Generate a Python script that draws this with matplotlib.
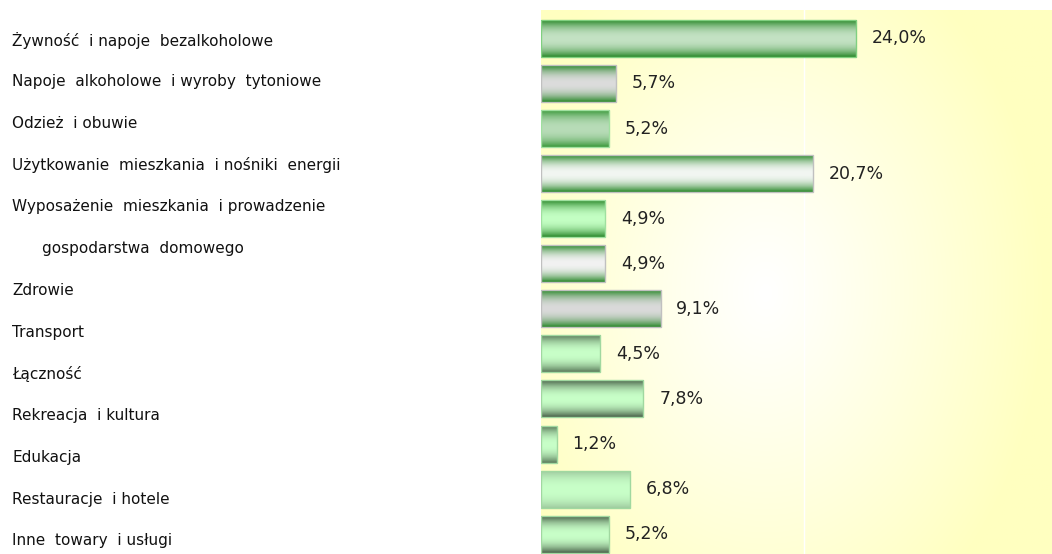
import numpy as np
import matplotlib
matplotlib.use("Agg")
import matplotlib.pyplot as plt
from matplotlib.colors import to_rgb

# dane: struktura wydatkow (%)
wartosci = [24.0, 5.7, 5.2, 20.7, 4.9, 4.9, 9.1, 4.5, 7.8, 1.2, 6.8, 5.2]

# etykiety z lewej strony (tak jak na oryginale - osobna kolumna tekstu)
etykiety = ["Żywność  i napoje  bezalkoholowe", "Napoje  alkoholowe  i wyroby  tytoniowe",
            "Odzież  i obuwie", "Użytkowanie  mieszkania  i nośniki  energii",
            "Wyposażenie  mieszkania  i prowadzenie", "gospodarstwa  domowego",
            "Zdrowie", "Transport", "Łączność", "Rekreacja  i kultura",
            "Edukacja", "Restauracje  i hotele", "Inne  towary  i usługi"]
wciecia = [0, 0, 0, 0, 0, 1, 0, 0, 0, 0, 0, 0, 0]

# kolory gradientu: (brzeg, srodek)
kolory = [("#2a882a", "#c4e2c4"), ("#2a882a", "#dcdcdc"), ("#3a983a", "#b8dcb8"),
          ("#2a882a", "#f2f6f2"), ("#2a882a", "#c4ffc4"), ("#2a882a", "#f2f2f2"),
          ("#2a882a", "#dadada"), ("#5a7a5a", "#c8ffc8"), ("#4a624a", "#c8ffc8"),
          ("#5a7a5a", "#c8ffc8"), ("#a0cca0", "#c8ffc8"), ("#4a624a", "#c8ffc8")]
obwodki = ["#80d080", "#c0c0c0", "#a0e0a0", "#c0c0c0", "#a0e0a0", "#c0c0c0",
           "#c0c0c0", "#a0d8a0", "#a0d8a0", "#a0d8a0", "#a0d8a0", "#a0d8a0"]

W, H = 1052, 554
fig = plt.figure(figsize=(W / 100, H / 100), dpi=100)
fig.patch.set_facecolor("white")
ax = fig.add_axes([541 / W, 0, 1 - 541 / W, 1 - 10 / H])

n = len(wartosci)

# tlo - gradient od bialego do zoltego
xx, yy = np.meshgrid(np.linspace(0, 1, 300), np.linspace(0, 1, 300))
r = np.sqrt(((xx - 0.44) / 0.55) ** 2 + ((yy - 0.48) / 0.7) ** 2)
t = np.clip(r, 0, 1) ** 1.1
zolty = np.array(to_rgb("#ffffc0"))
tlo = np.ones((300, 300, 3)) * (1 - t[..., None]) + zolty * t[..., None]
ax.imshow(tlo, extent=[0, 1, 0, 1], transform=ax.transAxes, aspect="auto",
          zorder=0, origin="lower")

ax.axvline(20, color="white", lw=1, zorder=1)

y = np.arange(n)
bary = ax.barh(y, wartosci, height=0.82, color="none", edgecolor="none", zorder=2)

prof = np.abs(np.linspace(-1, 1, 64)) ** 2.2
for bar, (kb, ks), ob in zip(bary, kolory, obwodki):
    x0, y0 = bar.get_x(), bar.get_y()
    w, h = bar.get_width(), bar.get_height()
    kb, ks = np.array(to_rgb(kb)), np.array(to_rgb(ks))
    grad = ks[None, :] * (1 - prof[:, None]) + kb[None, :] * prof[:, None]
    grad = np.repeat(grad[:, None, :], 2, axis=1)
    ax.imshow(grad, extent=[x0, x0 + w, y0 + h, y0], aspect="auto", zorder=2,
              interpolation="bilinear")
    bar.set_edgecolor(ob)
    bar.set_linewidth(1)
    bar.set_zorder(3)

ax.set_xlim(0, 38.9)
ax.set_ylim(n - 1 + 0.44, -0.63)

for yi, v in zip(y, wartosci):
    ax.text(v + 1.2, yi, f"{v:.1f}%".replace(".", ","), va="center", ha="left",
            fontsize=12.5, color="#222222", zorder=4)

for s in ax.spines.values():
    s.set_visible(False)
ax.set_xticks([])
ax.set_yticks([])

# etykiety kategorii
pozycje = np.linspace(40, 541, len(etykiety))
for et, p, wc in zip(etykiety, pozycje, wciecia):
    fig.text((12 + 30 * wc) / W, 1 - p / H, et, va="center", ha="left",
             fontsize=11, color="#111111")

fig.savefig("out.png", dpi=100)
